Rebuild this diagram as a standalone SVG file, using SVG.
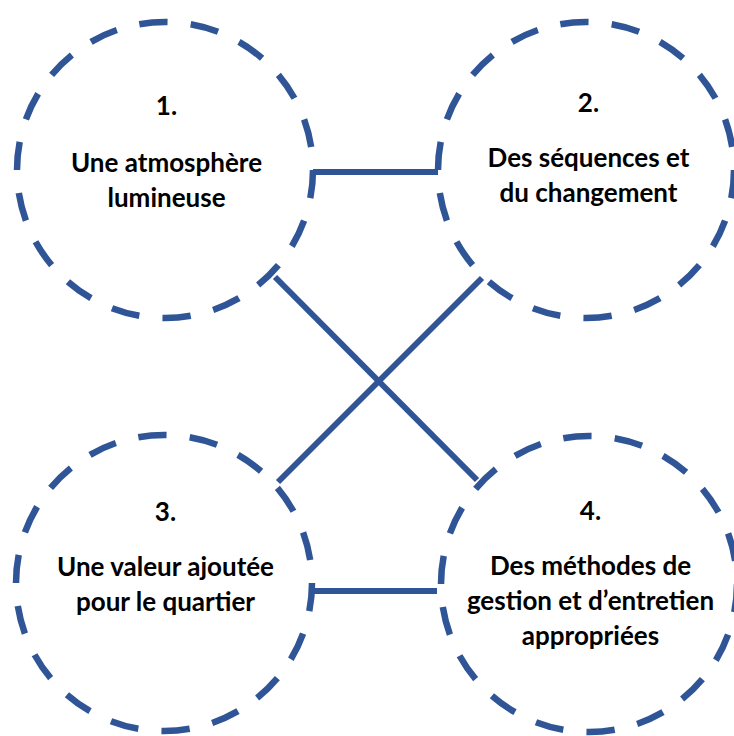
<svg xmlns="http://www.w3.org/2000/svg" width="734" height="736" viewBox="0 0 734 736">
<style>
.ring{fill:none;stroke:#2f5597;stroke-width:6.5;stroke-dasharray:0.55 0.45}
.link{fill:none;stroke:#2f5597;stroke-width:6}
text{font-family:Lato,"Open Sans","Liberation Sans",sans-serif;font-weight:bold;font-size:26px;fill:#000;text-anchor:middle}
</style>
<rect width="734" height="736" fill="#fff"/>
<g id="connectors">
<line class="link" x1="313" y1="172" x2="438" y2="172"/>
<line class="link" x1="313" y1="591" x2="437" y2="591"/>
<line class="link" x1="275" y1="277" x2="477" y2="480"/>
<line class="link" x1="482" y1="278" x2="278" y2="482"/>
</g>
<g id="node1">
<circle class="ring" cx="165" cy="170" r="148" pathLength="18"/>
<text x="166.5" y="115">1.</text>
<text x="166.5" y="172">Une atmosphère</text>
<text x="166.5" y="207">lumineuse</text>
</g>
<g id="node2">
<circle class="ring" cx="586" cy="170" r="148" pathLength="18"/>
<text x="588.5" y="112">2.</text>
<text x="588.5" y="167">Des séquences et</text>
<text x="588.5" y="202">du changement</text>
</g>
<g id="node3">
<circle class="ring" cx="164" cy="583" r="148" pathLength="18"/>
<text x="165.5" y="521">3.</text>
<text x="165.5" y="576">Une valeur ajoutée</text>
<text x="165.5" y="611">pour le quartier</text>
</g>
<g id="node4">
<circle class="ring" cx="589" cy="584" r="148" pathLength="18"/>
<text x="590.5" y="520">4.</text>
<text x="590.5" y="575">Des méthodes de</text>
<text x="590.5" y="610">gestion et d’entretien</text>
<text x="590.5" y="645">appropriées</text>
</g>
</svg>
